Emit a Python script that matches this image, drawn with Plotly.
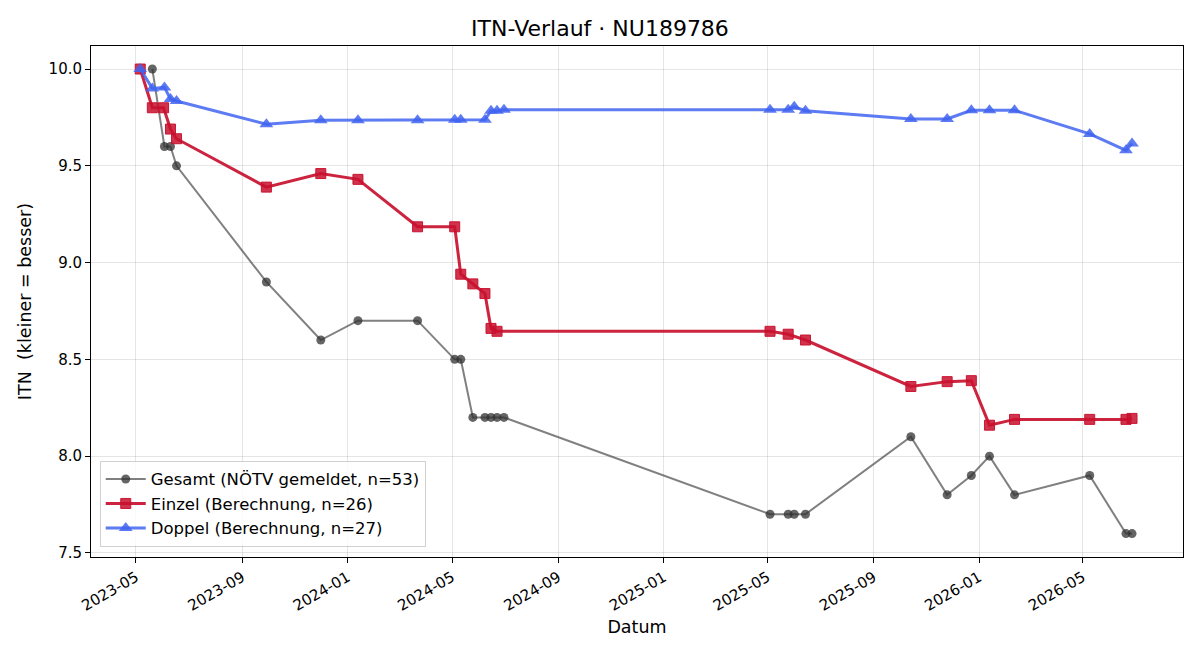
import plotly.graph_objects as go

# Gesamt (NÖTV gemeldet)
g_dates = ["2023-05-20", "2023-06-03", "2023-06-10", "2023-06-17", "2023-09-29",
           "2023-12-01", "2024-01-13", "2024-03-22", "2024-05-04", "2024-05-11",
           "2024-05-25", "2024-06-08", "2024-06-15", "2024-06-22", "2024-06-30",
           "2025-05-04", "2025-05-25", "2025-06-01", "2025-06-14", "2025-10-14",
           "2025-11-25", "2025-12-23", "2026-01-13", "2026-02-11", "2026-05-09",
           "2026-06-20", "2026-06-27"]
g_vals = [10.0, 9.6, 9.6, 9.5, 8.9,
          8.6, 8.7, 8.7, 8.5, 8.5,
          8.2, 8.2, 8.2, 8.2, 8.2,
          7.7, 7.7, 7.7, 7.7, 8.1,
          7.8, 7.9, 8.0, 7.8, 7.9,
          7.6, 7.6]

# Einzel (Berechnung)
e_dates = ["2023-05-06", "2023-05-20", "2023-06-02", "2023-06-10", "2023-06-17",
           "2023-09-29", "2023-12-01", "2024-01-13", "2024-03-22", "2024-05-04",
           "2024-05-11", "2024-05-25", "2024-06-08", "2024-06-15", "2024-06-22",
           "2025-05-04", "2025-05-25", "2025-06-14", "2025-10-14", "2025-11-25",
           "2025-12-23", "2026-01-13", "2026-02-11", "2026-05-09", "2026-06-20",
           "2026-06-27"]
e_vals = [10.0, 9.80, 9.80, 9.69, 9.64,
          9.39, 9.46, 9.43, 9.185, 9.185,
          8.94, 8.89, 8.84, 8.66, 8.645,
          8.645, 8.63, 8.60, 8.36, 8.385,
          8.39, 8.16, 8.19, 8.19, 8.19,
          8.195]

# Doppel (Berechnung)
d_dates = ["2023-05-06", "2023-05-20", "2023-06-03", "2023-06-10", "2023-06-17",
           "2023-09-29", "2023-12-01", "2024-01-13", "2024-03-22", "2024-05-04",
           "2024-05-11", "2024-06-08", "2024-06-15", "2024-06-22", "2024-06-30",
           "2025-05-04", "2025-05-25", "2025-06-01", "2025-06-14", "2025-10-14",
           "2025-11-25", "2025-12-23", "2026-01-13", "2026-02-11", "2026-05-09",
           "2026-06-20", "2026-06-27"]
d_vals = [10.0, 9.90, 9.905, 9.845, 9.835,
          9.715, 9.735, 9.735, 9.735, 9.738,
          9.738, 9.738, 9.785, 9.785, 9.79,
          9.79, 9.79, 9.805, 9.785, 9.742,
          9.742, 9.787, 9.787, 9.787, 9.665,
          9.58, 9.615]

x_ticks = ["2023-05-01", "2023-09-01", "2024-01-01", "2024-05-01", "2024-09-01",
           "2025-01-01", "2025-05-01", "2025-09-01", "2026-01-01", "2026-05-01"]
y_ticks = [7.5, 8.0, 8.5, 9.0, 9.5, 10.0]

FONT = "DejaVu Sans"

fig = go.Figure()
fig.add_trace(go.Scatter(
    x=g_dates, y=g_vals, mode="lines+markers",
    name="Gesamt (NÖTV gemeldet, n=53)",
    line=dict(color="rgba(60,60,60,0.65)", width=2),
    marker=dict(symbol="circle", size=9, color="rgba(50,50,50,0.75)"),
))
fig.add_trace(go.Scatter(
    x=e_dates, y=e_vals, mode="lines+markers",
    name="Einzel (Berechnung, n=26)",
    line=dict(color="rgba(200,16,46,0.92)", width=3),
    marker=dict(symbol="square", size=10, color="rgba(200,16,46,0.85)",
                line=dict(color="rgba(200,16,46,0.95)", width=1)),
))
fig.add_trace(go.Scatter(
    x=d_dates, y=d_vals, mode="lines+markers",
    name="Doppel (Berechnung, n=27)",
    line=dict(color="rgba(65,100,240,0.85)", width=3),
    marker=dict(symbol="triangle-up", size=12, color="rgba(65,100,240,0.85)"),
))

axis_common = dict(
    showline=True, linecolor="black", linewidth=1, mirror=True,
    ticks="outside", ticklen=5, tickcolor="black",
    showgrid=True, gridcolor="rgba(0,0,0,0.1)", gridwidth=1,
    zeroline=False,
    tickfont=dict(family=FONT, size=15, color="black"),
)

fig.update_layout(
    width=1200, height=660,
    paper_bgcolor="white", plot_bgcolor="white",
    margin=dict(l=91, r=17, t=46, b=103),
    font=dict(family=FONT, size=15, color="black"),
    title=dict(text="ITN-Verlauf · NU189786", x=0.5, xanchor="center",
               y=0.957, yanchor="middle",
               font=dict(family=FONT, size=22, color="black")),
    xaxis=dict(
        **axis_common,
        type="date",
        range=["2023-03-10", "2026-08-25"],
        tickvals=x_ticks, tickformat="%Y-%m", tickangle=-30,
        title=dict(text="Datum", font=dict(family=FONT, size=17.5), standoff=6),
    ),
    yaxis=dict(
        **axis_common,
        range=[7.479, 10.119],
        tickvals=y_ticks, tickformat=".1f",
        title=dict(text="ITN  (kleiner = besser)", font=dict(family=FONT, size=17.5), standoff=12),
    ),
    legend=dict(
        x=0.008, y=0.02, xanchor="left", yanchor="bottom",
        bgcolor="rgba(255,255,255,0.8)", bordercolor="rgba(0,0,0,0.18)", borderwidth=1,
        font=dict(family=FONT, size=16.5, color="black"),
        itemwidth=40, tracegroupgap=0,
    ),
    showlegend=True,
)

fig.write_html("out.html")
